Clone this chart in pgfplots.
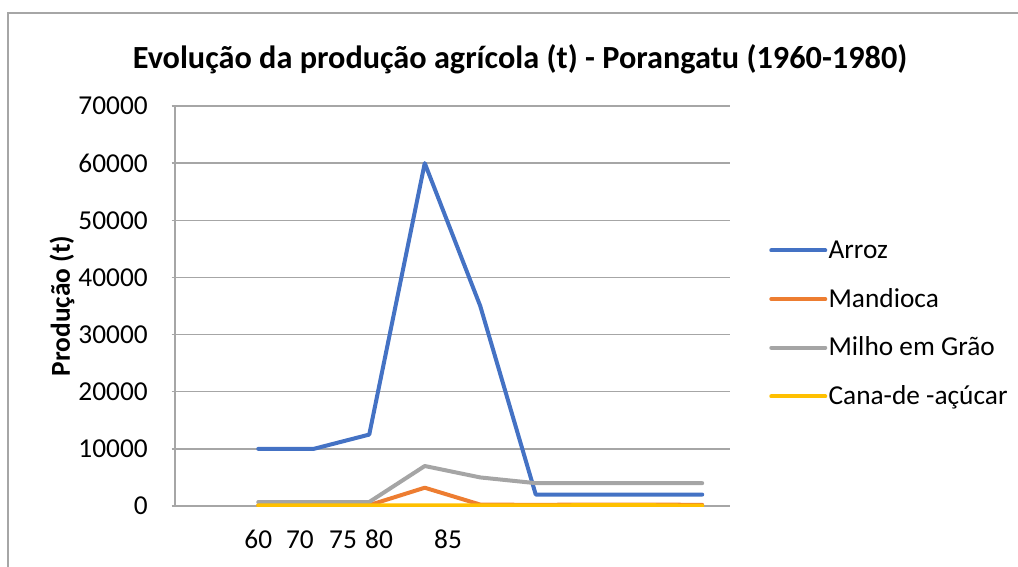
\documentclass[border=0pt]{standalone}
\usepackage{fontspec}
\setmainfont{Carlito}
\usepackage{pgfplots}
\pgfplotsset{compat=1.18}
\definecolor{cblue}{HTML}{4472C4}
\definecolor{corange}{HTML}{ED7D31}
\definecolor{cgray}{HTML}{A5A5A5}
\definecolor{cyellow}{HTML}{FFC000}
\definecolor{gridc}{HTML}{A6A6A6}
\begin{document}
\begin{tikzpicture}
\useasboundingbox (0pt,0pt) rectangle (763.5pt,-425.25pt);
\draw[gridc, line width=1.2pt] (6pt,-430pt) -- (6pt,-9.75pt) -- (770pt,-9.75pt);
\begin{axis}[
  at={(131.25pt,-379.5pt)}, anchor=south west,
  scale only axis, width=416.25pt, height=300pt,
  xmin=-0.5, xmax=9.5, ymin=0, ymax=70000,
  axis lines*=left,
  axis line style={gridc, line width=1pt},
  ymajorgrids, grid style={gridc, line width=1pt},
  ytick={0,10000,...,70000},
  scaled y ticks=false,
  /pgf/number format/1000 sep={},
  /pgf/number format/assume math mode=true,
  xtick={1,1.752,2.527,3.176,4.419},
  xticklabels={60,70,75,80,85},
  x tick style={draw=none},
  y tick style={gridc, line width=1pt},
  xtick align=inside, ytick align=outside, major tick length=2.5pt,
  tick label style={font=\fontsize{20.5}{24}\selectfont, text=black},
  yticklabel style={anchor=east, inner sep=0pt, xshift=-17.75pt},
  xticklabel style={anchor=center, inner sep=0pt, yshift=-25pt},
  title={Evolução da produção agrícola (t) - Porangatu (1960-1980)},
  title style={at={(0.6216,1.0975)}, anchor=center, font=\bfseries\fontsize{24.2}{29}\selectfont},
  ylabel={Produção (t)},
  ylabel style={at={(-0.2036,0.5)}, anchor=center, font=\bfseries\fontsize{20.5}{24}\selectfont},
  legend cell align=left,
  legend style={at={(1.0703,0.4565)}, anchor=west, draw=none, fill=none, inner sep=0pt,
    font=\fontsize{20.5}{24}\selectfont, row sep=18.5pt, column sep=1pt,
    nodes={inner sep=0pt, text height=15pt, text depth=3pt}},
  legend image code/.code={\draw[#1, line width=3pt, line cap=round] (0pt,0pt) -- (40.5pt,0pt);},
  every axis plot/.append style={line width=3pt, line join=round, line cap=round, mark=none},
]
\addplot[cblue] coordinates {(1,10000) (2,10000) (3,12500) (4,60000) (5,35000) (6,2000) (7,2000) (8,2000) (9,2000)};
\addlegendentry{Arroz}
\addplot[corange] coordinates {(1,150) (2,150) (3,150) (4,3200) (5,250) (6,200) (7,250) (8,250) (9,200)};
\addlegendentry{Mandioca}
\addplot[cgray] coordinates {(1,700) (2,700) (3,700) (4,7000) (5,5000) (6,4000) (7,4000) (8,4000) (9,4000)};
\addlegendentry{Milho em Grão}
\addplot[cyellow] coordinates {(1,100) (2,100) (3,100) (4,100) (5,100) (6,100) (7,150) (8,150) (9,40)};
\addlegendentry{Cana-de -açúcar}
\end{axis}
\end{tikzpicture}
\end{document}
